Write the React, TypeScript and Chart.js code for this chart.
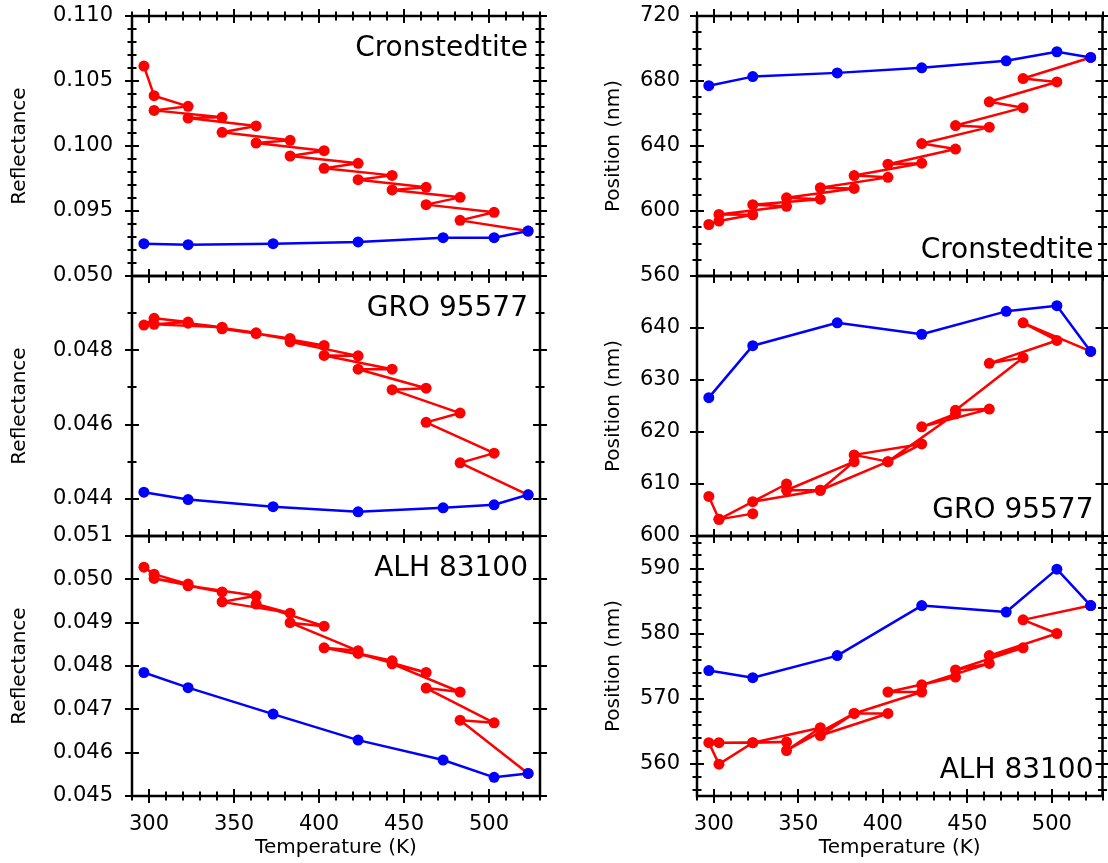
import React, { useEffect, useRef } from 'react';
import { Chart, registerables } from 'chart.js';

Chart.register(...registerables);

const FONT = "'DejaVu Sans', 'Noto Sans', sans-serif";

// Temperatures (K): measurement sequence of the stepwise heating (red) and the reference run (blue)
const redTemps = [297, 303, 323, 303, 343, 323, 363, 343, 383, 363, 403, 383, 423, 403, 443, 423, 463, 443, 483, 463, 503, 483, 523];
const blueTemps = [297, 323, 373, 423, 473, 503, 523];
const tempLabels = [300, 350, 400, 450, 500];

// Reflectance
const cronRefRed = [0.10615, 0.10387, 0.10305, 0.10274, 0.10221, 0.10215, 0.10154, 0.10105, 0.10044, 0.10023, 0.09964, 0.09923, 0.09867, 0.09828, 0.09774, 0.09741, 0.09682, 0.09662, 0.09605, 0.09549, 0.0949, 0.09428, 0.09346];
const cronRefBlue = [0.09249, 0.09241, 0.09249, 0.09262, 0.09295, 0.09295, 0.09346];
const cronRefLabels = [0.095, 0.1, 0.105, 0.11];

const groRefRed = [0.04868, 0.04886, 0.04876, 0.0487, 0.04862, 0.04873, 0.04847, 0.04858, 0.04832, 0.04845, 0.04813, 0.04823, 0.04785, 0.04786, 0.04749, 0.04749, 0.04698, 0.04694, 0.04631, 0.04606, 0.04523, 0.04497, 0.04411];
const groRefBlue = [0.04418, 0.04398, 0.04379, 0.04365, 0.04376, 0.04384, 0.04411];
const groRefLabels = [0.044, 0.046, 0.048, 0.05];

const alhRefRed = [0.05028, 0.05012, 0.04989, 0.05002, 0.04971, 0.04985, 0.04962, 0.04948, 0.04922, 0.04943, 0.04892, 0.049, 0.04835, 0.04842, 0.04812, 0.04829, 0.04785, 0.04805, 0.0474, 0.04749, 0.04669, 0.04675, 0.04552];
const alhRefBlue = [0.04785, 0.0475, 0.04689, 0.04629, 0.04583, 0.04543, 0.04552];
const alhRefLabels = [0.045, 0.046, 0.047, 0.048, 0.049, 0.05, 0.051];

// Band position (nm)
const cronPosRed = [591.7, 593.8, 597.7, 597.9, 602.9, 603.9, 607.3, 608.1, 613.9, 614.3, 620.7, 621.8, 629.4, 628.8, 638.1, 641.5, 651.6, 652.6, 663.6, 667.2, 679.4, 681.5, 694.5];
const cronPosBlue = [677.1, 682.7, 685.0, 688.1, 692.4, 698.0, 694.5];
const cronPosLabels = [560, 600, 640, 680, 720];

const groPosRed = [607.6, 603.2, 604.3, 603.2, 610.0, 606.6, 608.8, 608.8, 614.3, 608.8, 614.3, 615.6, 617.7, 614.3, 623.5, 621.0, 624.4, 624.2, 634.3, 633.2, 637.6, 641.0, 635.5];
const groPosBlue = [626.6, 636.6, 641.0, 638.8, 643.2, 644.3, 635.5];
const groPosLabels = [600, 610, 620, 630, 640];

const alhPosRed = [563.2, 559.9, 563.2, 563.2, 563.3, 563.2, 565.5, 562.0, 567.7, 564.3, 567.7, 567.7, 571.0, 571.0, 573.3, 572.1, 575.4, 574.4, 577.8, 576.6, 580.0, 582.1, 584.3];
const alhPosBlue = [574.3, 573.2, 576.6, 584.3, 583.3, 589.9, 584.3];
const alhPosLabels = [560, 570, 580, 590];

type Panel = {
  id: string;
  name: string;
  nameAt: 'top' | 'bottom';
  yTitle: string;
  yMin: number;
  yMax: number;
  yStep: number;
  yMajor: number;
  labels: number[];
  dec: number;
  red: number[];
  blue: number[];
  col: number;
  row: number;
};

const panels: Panel[] = [
  { id: 'a', name: 'Cronstedtite', nameAt: 'top', yTitle: 'Reflectance', yMin: 0.09, yMax: 0.11, yStep: 0.001, yMajor: 0.005, labels: cronRefLabels, dec: 3, red: cronRefRed, blue: cronRefBlue, col: 0, row: 0 },
  { id: 'b', name: 'GRO 95577', nameAt: 'top', yTitle: 'Reflectance', yMin: 0.043, yMax: 0.05, yStep: 0.001, yMajor: 0.002, labels: groRefLabels, dec: 3, red: groRefRed, blue: groRefBlue, col: 0, row: 1 },
  { id: 'c', name: 'ALH 83100', nameAt: 'top', yTitle: 'Reflectance', yMin: 0.045, yMax: 0.051, yStep: 0.001, yMajor: 0.001, labels: alhRefLabels, dec: 3, red: alhRefRed, blue: alhRefBlue, col: 0, row: 2 },
  { id: 'd', name: 'Cronstedtite', nameAt: 'bottom', yTitle: 'Position (nm)', yMin: 560, yMax: 720, yStep: 10, yMajor: 40, labels: cronPosLabels, dec: 0, red: cronPosRed, blue: cronPosBlue, col: 1, row: 0 },
  { id: 'e', name: 'GRO 95577', nameAt: 'bottom', yTitle: 'Position (nm)', yMin: 600, yMax: 650, yStep: 10, yMajor: 10, labels: groPosLabels, dec: 0, red: groPosRed, blue: groPosBlue, col: 1, row: 1 },
  { id: 'f', name: 'ALH 83100', nameAt: 'bottom', yTitle: 'Position (nm)', yMin: 555, yMax: 595, yStep: 2, yMajor: 10, labels: alhPosLabels, dec: 0, red: alhPosRed, blue: alhPosBlue, col: 1, row: 2 },
];

const colGeom = [
  { left: 0, width: 560, axisW: 132, padRight: 20, titlePad: 9, labelGap: 19 },
  { left: 592, width: 516, axisW: 105, padRight: 5, titlePad: 11, labelGap: 17 },
];
const rowGeom = [
  { top: 0, height: 300, padTop: 16, padBottom: 24, showX: false },
  { top: 256, height: 300, padTop: 20, padBottom: 20, showX: false },
  { top: 516, height: 347, padTop: 20, padBottom: 0, showX: true },
];

function stepTicks(min: number, max: number, step: number): number[] {
  const out: number[] = [];
  const s = Math.ceil(min / step - 1e-9);
  const e = Math.floor(max / step + 1e-9);
  for (let k = s; k <= e; k++) out.push(Number((k * step).toFixed(6)));
  return out;
}
const isMult = (v: number, m: number) => Math.abs(v / m - Math.round(v / m)) < 1e-6;
const inList = (v: number, list: number[]) => list.some((l) => Math.abs(l - v) < 1e-7);

const X_MIN = 290;
const X_MAX = 530;
const X_STEP = 10;
const X_MAJOR = 50;

function PanelChart({ p }: { p: Panel }) {
  const ref = useRef<HTMLCanvasElement>(null);
  const cg = colGeom[p.col];
  const rg = rowGeom[p.row];

  useEffect(() => {
    const xTicks = stepTicks(X_MIN, X_MAX, X_STEP);
    const yTicks = stepTicks(p.yMin, p.yMax, p.yStep);

    const framePlugin = {
      id: 'frame_' + p.id,
      afterDraw(chart: any) {
        const { ctx, chartArea } = chart;
        const { left, right, top, bottom } = chartArea;
        const xs = chart.scales.x;
        const ys = chart.scales.y;
        ctx.save();
        ctx.strokeStyle = '#000';
        ctx.lineWidth = 2;
        ctx.beginPath();
        for (const v of xTicks) {
          const px = Math.round(xs.getPixelForValue(v));
          const L = isMult(v, X_MAJOR) ? 7 : 4.5;
          ctx.moveTo(px, top - L);
          ctx.lineTo(px, top + L);
          ctx.moveTo(px, bottom - L);
          ctx.lineTo(px, bottom + L);
        }
        for (const v of yTicks) {
          const py = Math.round(ys.getPixelForValue(v));
          const L = isMult(v, p.yMajor) ? 7 : 4.5;
          ctx.moveTo(left - L, py);
          ctx.lineTo(left + L, py);
          ctx.moveTo(right - L, py);
          ctx.lineTo(right + L, py);
        }
        ctx.stroke();
        ctx.lineWidth = 2.5;
        ctx.beginPath();
        ctx.rect(left, top, right - left, bottom - top);
        ctx.stroke();
        ctx.fillStyle = '#000';
        ctx.font = `28px ${FONT}`;
        ctx.textAlign = 'right';
        ctx.textBaseline = 'alphabetic';
        if (p.nameAt === 'top') ctx.fillText(p.name, right - 12, top + 40);
        else ctx.fillText(p.name, right - 9, bottom - 18);
        ctx.restore();
      },
    };

    const lineStyle = {
      showLine: true,
      borderWidth: 2.5,
      borderJoinStyle: 'round',
      borderCapStyle: 'round',
      pointRadius: 5.5,
      pointBorderWidth: 0,
    };

    const chart = new Chart(ref.current as HTMLCanvasElement, {
      type: 'scatter',
      data: {
        datasets: [
          {
            ...lineStyle,
            data: blueTemps.map((t, i) => ({ x: t, y: p.blue[i] })),
            borderColor: '#0000ff',
            backgroundColor: '#0000ff',
            pointBackgroundColor: '#0000ff',
          },
          {
            ...lineStyle,
            data: redTemps.map((t, i) => ({ x: t, y: p.red[i] })),
            borderColor: '#ff0000',
            backgroundColor: '#ff0000',
            pointBackgroundColor: '#ff0000',
          },
        ],
      },
      options: {
        responsive: false,
        animation: false,
        events: [],
        layout: { padding: { top: rg.padTop, bottom: rg.padBottom, left: 0, right: cg.padRight } },
        plugins: { legend: { display: false }, tooltip: { enabled: false }, title: { display: false } },
        scales: {
          x: {
            type: 'linear',
            min: X_MIN,
            max: X_MAX,
            display: rg.showX,
            afterBuildTicks: (s: any) => {
              s.ticks = xTicks.map((v) => ({ value: v }));
            },
            afterFit: (s: any) => {
              s.height = rg.showX ? 67 : 0;
            },
            ticks: {
              autoSkip: false,
              maxRotation: 0,
              minRotation: 0,
              padding: 0,
              color: '#000',
              font: { family: FONT, size: 21 },
              callback: (v: any) => (inList(Number(v), tempLabels) ? String(Math.round(Number(v))) : ''),
            },
            grid: { display: false, drawTicks: true, tickLength: 16 },
            border: { display: false },
            title: {
              display: true,
              text: 'Temperature (K)',
              color: '#000',
              font: { family: FONT, size: 20 },
              padding: { top: 0, bottom: 3 },
            },
          },
          y: {
            type: 'linear',
            min: p.yMin,
            max: p.yMax,
            afterBuildTicks: (s: any) => {
              s.ticks = yTicks.map((v) => ({ value: v }));
            },
            afterFit: (s: any) => {
              s.width = cg.axisW;
            },
            ticks: {
              autoSkip: false,
              padding: 0,
              color: '#000',
              font: { family: FONT, size: 21 },
              callback: (v: any) => (inList(Number(v), p.labels) ? Number(v).toFixed(p.dec) : ''),
            },
            grid: { display: false, drawTicks: true, tickLength: cg.labelGap },
            border: { display: false },
            title: {
              display: true,
              text: p.yTitle,
              color: '#000',
              font: { family: FONT, size: 20 },
              padding: { top: cg.titlePad - 1, bottom: 0 },
            },
          },
        },
      } as any,
      plugins: [framePlugin],
    });
    return () => chart.destroy();
  }, []);

  return (
    <canvas
      ref={ref}
      width={cg.width}
      height={rg.height}
      style={{ position: 'absolute', left: cg.left, top: rg.top, width: cg.width, height: rg.height }}
    />
  );
}

export default function App() {
  return (
    <div style={{ position: 'fixed', left: 0, top: 0, width: 1108, height: 863, background: '#fff', overflow: 'hidden' }}>
      {panels.map((p) => (
        <PanelChart key={p.id} p={p} />
      ))}
    </div>
  );
}
